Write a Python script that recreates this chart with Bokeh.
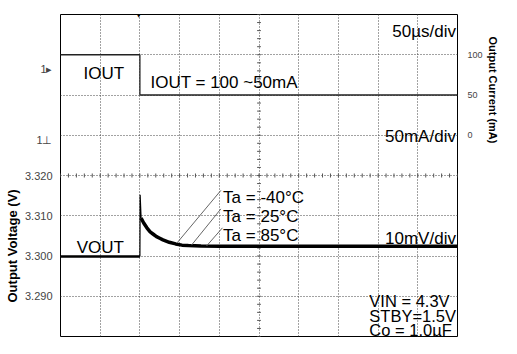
import math
import numpy as np
from bokeh.plotting import figure
from bokeh.models import (Range1d, LinearAxis, FixedTicker, NumeralTickFormatter,
                          Label, Grid, ColumnDataSource, Title)
from bokeh.core.properties import value
from bokeh.embed import file_html
from bokeh.resources import INLINE

# ---------------- data ----------------
# time in microseconds, 50 us/div, load step at t = 0
time_grid = [-50, 0, 50, 100, 150, 200, 250, 300, 350]
volt_ticks = [3.29, 3.30, 3.31, 3.32]
volt_grid = [3.29, 3.30, 3.31, 3.32, 3.33, 3.34, 3.35]
cur_ticks = [0, 50, 100]

# output voltage trace (V)
t_us = [-100, -75, -50, -25, -1, 0, 0.3, 1.5, 4.8, 8.8, 12.9, 16.9, 20.9, 25,
        29, 37, 45, 53, 61, 77, 101, 150, 200, 250, 300, 350, 400]
vout = [3.2999, 3.2999, 3.2999, 3.2999, 3.2999, 3.2999, 3.3152, 3.3094, 3.3082,
        3.3070, 3.3060, 3.3054, 3.3048, 3.3044, 3.3040, 3.3034, 3.3030, 3.3027,
        3.3026, 3.3025, 3.3024, 3.3024, 3.3024, 3.3024, 3.3024, 3.3024, 3.3024]

# output current step (mA)
iout_t = [-100, 0, 0, 400]
iout_ma = [100, 100, 50, 50]

# temperature labels
temps = ["Ta = -40°C", "Ta = 25°C", "Ta = 85°C"]

# scope channel markers on the left edge (position on the voltage scale)
marker_pos = [3.3465, 3.3287]
marker_txt = ["1▸", "1⊥"]

FONT = "Liberation Sans"

p = figure(width=501, height=338,
           x_range=Range1d(-100, 400), y_range=Range1d(3.28, 3.36),
           output_backend="svg", toolbar_location=None,
           x_axis_location=None, y_axis_location="left",
           min_border_left=58, min_border_right=28,
           min_border_top=14, min_border_bottom=2)
p.extra_y_ranges = {"cur": Range1d(-250, 150)}
p.background_fill_color = "white"
p.border_fill_color = "white"
p.outline_line_color = "black"
p.outline_line_width = 1
p.grid.grid_line_color = None

# left axis (voltage) + scope markers as extra labelled ticks
ya = p.yaxis[0]
ya.ticker = FixedTicker(ticks=volt_ticks + marker_pos)
ya.formatter = NumeralTickFormatter(format="0.000")
ya.major_label_overrides = {marker_pos[0]: marker_txt[0],
                            marker_pos[1]: marker_txt[1]}
ya.axis_line_color = None
ya.major_tick_line_color = None
ya.minor_tick_line_color = None
ya.major_label_standoff = 2
ya.major_label_text_font = FONT
ya.major_label_text_font_size = "11px"
ya.major_label_text_color = "#444444"

# right axis (current)
ra = LinearAxis(y_range_name="cur", ticker=FixedTicker(ticks=cur_ticks),
                formatter=NumeralTickFormatter(format="0"))
ra.axis_line_color = None
ra.major_tick_line_color = None
ra.minor_tick_line_color = None
ra.major_label_standoff = 4
ra.major_label_text_font = FONT
ra.major_label_text_font_size = "9px"
ra.major_label_text_color = "#444444"
p.add_layout(ra, "right")

# axis titles
p.add_layout(Title(text="Output Voltage (V)", align="left", offset=34,
                   standoff=4, text_font=FONT, text_font_size="13px",
                   text_font_style="bold", text_color="black"), "left")
p.add_layout(Title(text="Output Current (mA)", align="left", offset=22,
                   standoff=2, text_font=FONT, text_font_size="11px",
                   text_font_style="bold", text_color="black"), "right")

# dotted graticule
gx = Grid(dimension=0, ticker=FixedTicker(ticks=time_grid),
          grid_line_color="#444444", grid_line_dash="1 2", grid_line_width=1)
gy = Grid(dimension=1, ticker=FixedTicker(ticks=volt_grid),
          grid_line_color="#444444", grid_line_dash="1 2", grid_line_width=1)
p.add_layout(gx, "center")
p.add_layout(gy, "center")

# centre lines with minor tick marks (1/5 div)
mx = np.arange(-100, 400.1, 10)
p.segment(x0=mx, y0=3.32 - 0.0005, x1=mx, y1=3.32 + 0.0005,
          line_color="#555555", line_width=1)
my = np.arange(3.28, 3.3601, 0.002)
p.segment(x0=150 - 2.4, y0=my, x1=150 + 2.4, y1=my,
          line_color="#555555", line_width=1)

# output current trace
p.line(iout_t, iout_ma, y_range_name="cur", line_color="#222222", line_width=1.3)

# output voltage trace
p.line(t_us[:6], vout[:6], line_color="black", line_width=2.5)
p.line(t_us[5:8], vout[5:8], line_color="black", line_width=1.2)
p.line(t_us[7:], vout[7:], line_color="black", line_width=3.5)

# leader lines for temperature labels
lead_x0 = [102, 102, 104]
lead_y0 = [3.3163, 3.3117, 3.3070]
lead_x1 = [47, 65, 84]
lead_y1 = [3.3033, 3.3027, 3.3025]
p.segment(x0=lead_x0, y0=lead_y0, x1=lead_x1, y1=lead_y1,
          line_color="#666666", line_width=1)

# texts
left_src = ColumnDataSource(dict(
    x=[-71, 13.3, -79.5, 104.8, 104.8, 104.8],
    y=[3.3453, 3.3431, 3.3022, 3.3145, 3.3098, 3.3051],
    text=["IOUT", "IOUT = 100 ~50mA", "VOUT", temps[0], temps[1], temps[2]]))
p.text(x="x", y="y", text="text", source=left_src, text_font=value(FONT),
       text_font_size="17px", text_align="left", text_baseline="alphabetic",
       text_color="black")
cond_src = ColumnDataSource(dict(
    x=[289, 289, 289],
    y=[3.2889, 3.2852, 3.2816],
    text=["VIN = 4.3V", "STBY=1.5V", "Co = 1.0µF"]))
p.text(x="x", y="y", text="text", source=cond_src, text_font=value(FONT),
       text_font_size="16.5px", text_align="left", text_baseline="alphabetic",
       text_color="black")
right_src = ColumnDataSource(dict(
    x=[398, 398, 398],
    y=[3.3559, 3.3296, 3.3043],
    text=["50µs/div", "50mA/div", "10mV/div"]))
p.text(x="x", y="y", text="text", source=right_src, text_font=value(FONT),
       text_font_size="17px", text_align="right", text_baseline="alphabetic",
       text_color="black")

# trigger marker above the frame
p.add_layout(Label(x=0, y=3.3612, text="T", text_align="right",
                   text_baseline="alphabetic", text_font="DejaVu Sans",
                   text_font_size="7px", text_color="black", level="overlay"))
p.add_layout(Label(x=2, y=3.3600, text="▼", text_align="right",
                   text_baseline="alphabetic", text_font="DejaVu Sans",
                   text_font_size="7px", text_color="black", level="overlay"))

open("out.html", "w").write(file_html(p, INLINE))
